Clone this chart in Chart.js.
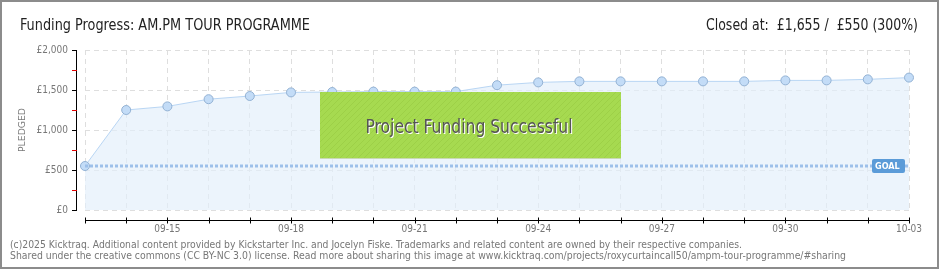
<!DOCTYPE html>
<html>
<head>
<meta charset="utf-8">
<script src="https://cdn.jsdelivr.net/npm/chart.js@4"></script>
<style>
  html, body { margin: 0; padding: 0; background: #fff; }
  #wrap { width: 940px; height: 270px; }
</style>
</head>
<body>
<div id="wrap"><canvas id="chart" width="940" height="270"></canvas></div>
<script>
// chart data
const dates = ['09-13', '09-14', '09-15', '09-16', '09-17', '09-18', '09-19', '09-20', '09-21', '09-22', '09-23',
  '09-24', '09-25', '09-26', '09-27', '09-28', '09-29', '09-30', '10-01', '10-02', '10-03'];
const pledged = [550, 1250, 1295, 1385, 1425, 1470, 1475, 1480, 1480, 1480, 1560,
  1595, 1608, 1608, 1608, 1608, 1608, 1620, 1620, 1633, 1655];
const goal = 550;
const yTicks = [0, 500, 1000, 1500, 2000];
const title = 'Funding Progress: AM.PM TOUR PROGRAMME';
const closedText = 'Closed at:  £1,655 /  £550 (300%)';
const bannerText = 'Project Funding Successful';
const footer1 = '(c)2025 Kicktraq. Additional content provided by Kickstarter Inc. and Jocelyn Fiske. Trademarks and related content are owned by their respective companies.';
const footer2 = 'Shared under the creative commons (CC BY-NC 3.0) license. Read more about sharing this image at www.kicktraq.com/projects/roxycurtaincall50/ampm-tour-programme/#sharing';

const FONT = '"DejaVu Sans Condensed", "DejaVu Sans", sans-serif';

// draw text squeezed/stretched to a given width
function fitText(ctx, text, x, y, w, font, color, align) {
  ctx.save();
  ctx.font = font;
  ctx.fillStyle = color;
  ctx.textBaseline = 'alphabetic';
  const m = ctx.measureText(text).width;
  const s = w / m;
  let left = x;
  if (align === 'right') left = x - w;
  if (align === 'center') left = x - w / 2;
  ctx.translate(left, y);
  ctx.scale(s, 1);
  ctx.textAlign = 'left';
  ctx.fillText(text, 0, 0);
  ctx.restore();
}

function hatch() {
  const c = document.createElement('canvas');
  c.width = 6; c.height = 6;
  const g = c.getContext('2d');
  g.fillStyle = '#a6da50';
  g.fillRect(0, 0, 6, 6);
  g.strokeStyle = '#9dd047';
  g.lineWidth = 1;
  g.beginPath();
  g.moveTo(0, 6); g.lineTo(6, 0);
  g.moveTo(-3, 3); g.lineTo(3, -3);
  g.moveTo(3, 9); g.lineTo(9, 3);
  g.stroke();
  return c;
}

const decor = {
  id: 'decor',
  beforeDraw(chart) {
    const ctx = chart.ctx;
    ctx.save();
    ctx.fillStyle = '#fff';
    ctx.fillRect(0, 0, chart.width, chart.height);
    ctx.restore();
  },
  afterDatasetsDraw(chart) {
    const ctx = chart.ctx;
    const x = chart.scales.x, y = chart.scales.y;
    const area = chart.chartArea;
    ctx.save();

    // y axis line and ticks
    const ax = area.left - 9;
    ctx.strokeStyle = '#000';
    ctx.lineWidth = 1;
    ctx.beginPath();
    ctx.moveTo(ax + 0.5, y.getPixelForValue(2000));
    ctx.lineTo(ax + 0.5, y.getPixelForValue(0) + 1);
    ctx.stroke();
    for (let v = 0; v <= 2000; v += 250) {
      const py = Math.round(y.getPixelForValue(v)) + 0.5;
      ctx.strokeStyle = v % 500 === 0 ? '#000' : '#e00000';
      ctx.beginPath();
      ctx.moveTo(ax - 4, py);
      ctx.lineTo(ax + 1, py);
      ctx.stroke();
    }

    // x axis line and ticks
    const ay = area.bottom + 10.5;
    ctx.strokeStyle = '#000';
    ctx.beginPath();
    ctx.moveTo(area.left, ay);
    ctx.lineTo(area.right, ay);
    ctx.stroke();
    dates.forEach((d, i) => {
      const px = Math.round(x.getPixelForValue(i)) + 0.5;
      ctx.beginPath();
      ctx.moveTo(px, ay - 3);
      ctx.lineTo(px, ay + 3);
      ctx.stroke();
    });

    // success banner
    const bx = 320, by = 92, bw = 301, bh = 66;
    ctx.fillStyle = ctx.createPattern(hatch(), 'repeat');
    ctx.fillRect(bx, by, bw, bh);
    ctx.fillStyle = '#c9d9b4';
    ctx.fillRect(bx, by + bh, bw, 1);
    fitText(ctx, bannerText, 469 + 1, 133 + 1, 207, '19px ' + FONT, '#ffffff', 'center');
    fitText(ctx, bannerText, 469, 133, 207, '19px ' + FONT, '#555555', 'center');

    // goal tag
    const gy = y.getPixelForValue(goal);
    ctx.fillStyle = '#5b9bd8';
    ctx.beginPath();
    ctx.roundRect(872, gy - 7, 33, 14, 2);
    ctx.fill();
    ctx.fillStyle = '#fff';
    ctx.font = 'bold 9px ' + FONT;
    ctx.textAlign = 'left';
    ctx.textBaseline = 'middle';
    ctx.fillText('GOAL', 875, gy + 0.5);

    ctx.restore();
  },
  afterDraw(chart) {
    const ctx = chart.ctx;
    ctx.save();
    // titles
    fitText(ctx, title, 20, 30, 290, '15px ' + FONT, '#222', 'left');
    fitText(ctx, closedText, 918, 30, 212, '15px ' + FONT, '#222', 'right');

    // y axis title
    ctx.save();
    ctx.translate(25, 130);
    ctx.rotate(-Math.PI / 2);
    fitText(ctx, 'PLEDGED', 0, 0, 44, '9px ' + FONT, '#777', 'center');
    ctx.restore();

    // footer
    fitText(ctx, footer1, 10, 248, 732, '10px "DejaVu Sans", sans-serif', '#777', 'left');
    fitText(ctx, footer2, 10, 259, 836, '10px "DejaVu Sans", sans-serif', '#777', 'left');

    // frame
    ctx.strokeStyle = '#8c8c8c';
    ctx.lineWidth = 2;
    ctx.strokeRect(1, 1, chart.width - 3, chart.height - 3);
    ctx.restore();
  }
};

new Chart(document.getElementById('chart'), {
  type: 'line',
  data: {
    labels: dates,
    datasets: [
      {
        label: 'Pledged',
        data: pledged,
        borderColor: '#b9d6f4',
        borderWidth: 1,
        backgroundColor: 'rgba(226,238,251,0.65)',
        fill: 'origin',
        tension: 0,
        pointRadius: 4.5,
        pointBackgroundColor: '#c3dcf7',
        pointBorderColor: '#93b2d4',
        pointBorderWidth: 1,
        order: 2
      },
      {
        label: 'Goal',
        data: dates.map(() => goal),
        borderColor: '#9dc0ea',
        borderWidth: 3,
        borderDash: [3, 2],
        pointRadius: 0,
        fill: false,
        order: 1
      }
    ]
  },
  options: {
    responsive: false,
    animation: false,
    layout: { padding: { top: 50, right: 31, left: 0, bottom: 0 } },
    plugins: { legend: { display: false }, tooltip: { enabled: false } },
    scales: {
      x: {
        afterFit: s => { s.height = 60; },
        grid: { color: '#dedede', drawTicks: false },
        border: { display: false, dash: [5, 4] },
        ticks: {
          autoSkip: false,
          maxRotation: 0,
          padding: 13,
          color: '#777',
          font: { family: FONT, size: 10 },
          callback: (v, i) => ((i - 2) % 3 === 0 ? dates[i] : '')
        }
      },
      y: {
        min: 0,
        max: 2000,
        afterFit: s => { s.width = 85; },
        afterBuildTicks: s => { s.ticks = yTicks.map(v => ({ value: v })); },
        grid: { color: '#dedede', drawTicks: false },
        border: { display: false, dash: [5, 4] },
        ticks: {
          padding: 17,
          color: '#777',
          font: { family: FONT, size: 10 },
          callback: v => '£' + Number(v).toLocaleString('en-GB')
        }
      }
    }
  },
  plugins: [decor]
});
</script>
</body>
</html>
